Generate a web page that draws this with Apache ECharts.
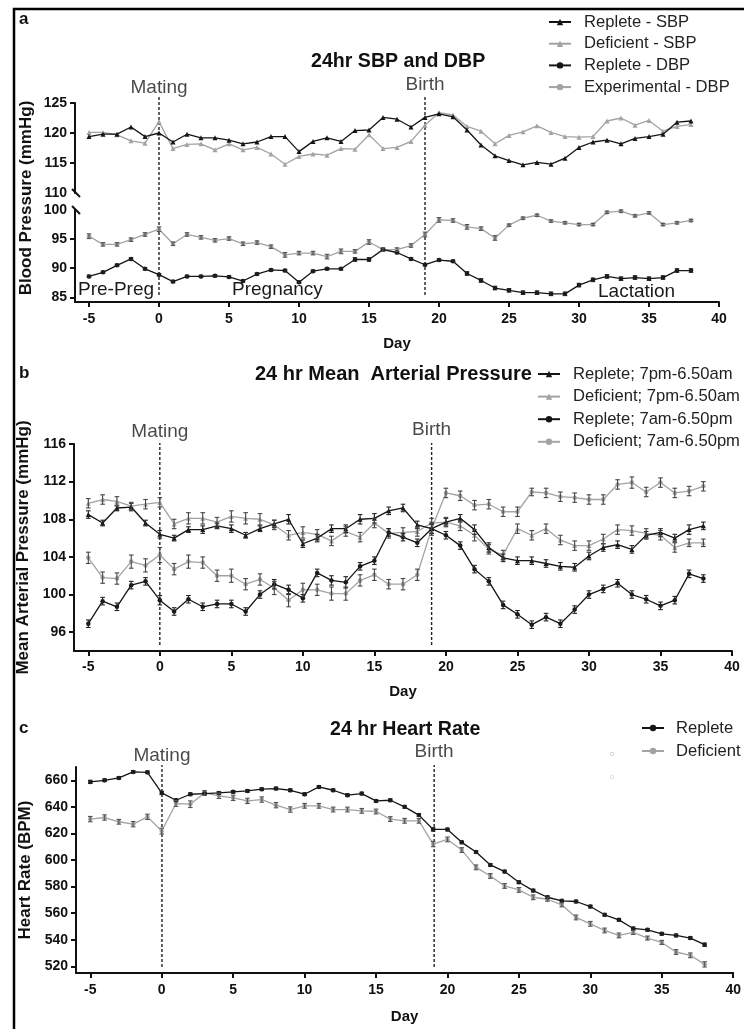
<!DOCTYPE html>
<html>
<head>
<meta charset="utf-8">
<script src="https://cdn.jsdelivr.net/npm/echarts@6/dist/echarts.min.js"></script>
<style>
  html, body { margin: 0; padding: 0; background: #fff; }
  #chart { width: 744px; height: 1029px; }
</style>
</head>
<body>
<div id="chart"></div>
<script>
// Study days (day 0 = mating, day 19 = birth)
const days = [-5,-4,-3,-2,-1,0,1,2,3,4,5,6,7,8,9,10,11,12,13,14,15,16,17,18,19,20,21,22,23,24,25,26,27,28,29,30,31,32,33,34,35,36,37,38];
const dayTicks = [-5,0,5,10,15,20,25,30,35,40];

// Panel a: 24 hr systolic / diastolic blood pressure (mmHg)
const sbpReplete   = [119.4,119.8,119.8,121.0,119.4,120.0,118.5,119.8,119.2,119.2,118.8,118.2,118.5,119.4,119.4,116.9,118.6,119.2,118.6,120.4,120.5,122.6,122.3,121.0,122.6,123.2,122.7,120.5,118.0,116.2,115.4,114.7,115.1,114.8,115.8,117.6,118.5,118.8,118.2,119.1,119.4,119.8,121.8,122.0];
const sbpDeficient = [120.1,120.1,119.7,118.7,118.3,121.9,117.4,118.1,118.2,117.2,118.2,117.2,117.6,116.5,114.8,116.1,116.5,116.3,117.4,117.3,119.7,117.4,117.6,118.6,121.3,123.4,123.0,121.1,120.3,118.2,119.6,120.2,121.2,120.1,119.4,119.3,119.4,122.0,122.5,121.3,122.1,120.3,121.1,121.4];
const dbpReplete   = [88.6,89.3,90.5,91.6,89.9,88.9,87.7,88.6,88.6,88.7,88.5,87.8,89.0,89.7,89.6,87.6,89.5,89.9,89.9,91.5,91.5,93.2,92.7,91.6,90.6,91.4,91.2,89.1,87.9,86.6,86.2,85.8,85.8,85.6,85.6,87.1,88.0,88.6,88.2,88.4,88.2,88.4,89.6,89.6];
const dbpRepleteErr = [0.2,0.2,0.2,0.2,0.2,0.2,0.2,0.2,0.2,0.2,0.2,0.2,0.2,0.2,0.2,0.2,0.2,0.2,0.2,0.3,0.3,0.2,0.2,0.2,0.2,0.2,0.2,0.3,0.3,0.3,0.3,0.3,0.3,0.3,0.3,0.3,0.3,0.3,0.3,0.3,0.3,0.3,0.3,0.3];
const dbpExperimental = [95.5,94.1,94.1,94.9,95.8,96.7,94.2,95.8,95.3,94.8,95.1,94.2,94.4,93.7,92.3,92.6,92.6,92.0,92.9,92.9,94.5,93.2,93.2,93.9,95.8,98.3,98.2,97.1,96.8,95.2,97.4,98.6,99.1,98.1,97.8,97.5,97.5,99.6,99.8,99.0,99.5,97.5,97.8,98.2];
const dbpExperimentalErr = [0.4,0.3,0.3,0.3,0.3,0.4,0.3,0.3,0.3,0.3,0.3,0.3,0.3,0.3,0.4,0.3,0.3,0.4,0.4,0.3,0.4,0.3,0.3,0.3,0.4,0.4,0.3,0.4,0.3,0.4,0.2,0.2,0.2,0.2,0.2,0.2,0.2,0.2,0.2,0.2,0.2,0.2,0.2,0.2];

// Panel b: 24 hr mean arterial pressure (mmHg), night and day periods
const mapNightReplete   = [108.5,107.6,109.2,109.3,107.6,106.4,106.0,106.9,106.9,107.3,107.0,106.3,107.0,107.5,108.0,105.4,106.0,107.0,107.0,108.0,108.1,108.9,109.2,107.4,107.0,107.7,108.1,106.9,105.0,103.9,103.6,103.6,103.3,103.0,102.9,104.1,105.0,105.3,104.8,106.3,106.6,106.0,106.9,107.3];
const mapNightRepleteErr = [0.4,0.3,0.3,0.4,0.3,0.4,0.3,0.3,0.4,0.3,0.4,0.3,0.3,0.4,0.5,0.4,0.4,0.4,0.4,0.5,0.5,0.4,0.4,0.4,0.5,0.4,0.4,0.5,0.5,0.4,0.4,0.4,0.4,0.4,0.4,0.4,0.4,0.4,0.4,0.4,0.4,0.4,0.5,0.4];
const mapNightDeficient = [109.7,110.1,109.9,109.4,109.6,109.8,107.5,108.1,108.1,107.7,108.3,108.1,108.0,107.4,106.3,106.6,106.4,105.7,106.7,106.1,107.6,106.5,106.6,106.7,107.6,107.7,107.3,106.3,104.8,104.2,107.0,106.3,107.0,105.8,105.2,105.2,105.9,106.9,106.8,106.5,106.3,105.0,105.5,105.5];
const mapNightDeficientErr = [0.5,0.5,0.5,0.4,0.5,0.5,0.5,0.6,0.6,0.5,0.6,0.6,0.6,0.5,0.5,0.6,0.5,0.5,0.5,0.5,0.5,0.5,0.5,0.5,0.5,0.5,0.5,0.6,0.5,0.5,0.5,0.5,0.5,0.5,0.5,0.5,0.5,0.5,0.5,0.5,0.5,0.5,0.4,0.4];
const mapDayReplete   = [96.9,99.3,98.7,101.0,101.4,99.4,98.2,99.5,98.7,99.0,99.0,98.2,100.0,101.1,100.5,99.6,102.3,101.5,101.3,103.0,103.6,106.6,106.1,105.5,107.0,106.3,105.2,102.7,101.4,98.9,97.9,96.8,97.6,96.9,98.4,100.0,100.6,101.2,100.0,99.5,98.8,99.4,102.2,101.7];
const mapDayRepleteErr = [0.4,0.4,0.4,0.4,0.4,0.5,0.4,0.4,0.4,0.4,0.4,0.4,0.4,0.5,0.5,0.4,0.4,0.5,0.6,0.4,0.4,0.4,0.4,0.4,0.5,0.4,0.4,0.4,0.4,0.4,0.4,0.4,0.4,0.4,0.4,0.4,0.4,0.4,0.4,0.4,0.4,0.4,0.4,0.4];
const mapDayDeficient = [103.9,101.8,101.7,103.5,103.1,104.2,102.7,103.5,103.4,102.0,102.0,101.1,101.6,100.7,99.4,100.5,100.5,100.1,100.1,101.5,102.1,101.1,101.1,102.1,107.0,110.8,110.5,109.5,109.6,108.8,108.8,110.9,110.8,110.4,110.3,110.1,110.1,111.7,111.9,110.9,111.9,110.8,111.0,111.5];
const mapDayDeficientErr = [0.6,0.6,0.6,0.7,0.7,0.8,0.6,0.7,0.6,0.6,0.7,0.6,0.6,0.7,0.7,0.7,0.6,0.7,0.7,0.6,0.6,0.5,0.6,0.6,0.7,0.5,0.5,0.5,0.5,0.5,0.5,0.4,0.5,0.5,0.5,0.5,0.5,0.5,0.6,0.5,0.5,0.5,0.5,0.5];

// Panel c: 24 hr heart rate (BPM)
const hrReplete   = [658.8,660.0,661.8,666.3,666.0,650.5,645.0,649.5,650.0,650.5,651.3,652.0,653.3,653.8,652.5,649.5,655.0,652.5,648.8,650.0,644.5,645.0,640.0,633.8,623.0,623.0,613.3,606.0,596.3,591.3,583.3,577.0,572.0,569.3,568.8,565.0,558.8,555.0,548.5,547.5,544.5,543.3,541.3,536.3];
const hrRepleteErr = [1.2,1.0,1.0,1.0,1.0,1.2,1.0,1.0,1.0,1.0,1.0,1.0,1.0,1.0,1.0,1.0,1.0,1.0,1.0,1.0,1.0,1.0,1.0,1.0,1.2,1.0,1.0,1.0,1.0,1.0,1.0,1.0,1.0,1.0,1.0,1.0,1.0,1.0,1.0,1.0,1.0,1.0,1.0,1.2];
const hrDeficient = [630.8,632.0,628.8,627.0,632.5,621.8,642.5,642.0,650.5,648.3,646.8,644.5,645.5,641.3,638.0,640.8,640.8,638.0,638.0,637.0,636.5,630.8,629.5,629.5,612.0,615.5,607.5,594.5,588.0,580.5,577.5,572.0,570.5,566.3,556.8,552.0,547.0,543.3,545.5,541.3,538.0,530.8,528.3,521.5];
const hrDeficientErr = [2.0,2.0,1.8,2.0,2.0,2.2,2.2,2.5,1.8,2.0,2.0,2.0,2.0,2.0,2.0,1.8,1.8,1.8,1.8,1.8,1.8,1.8,1.8,1.8,2.0,1.8,1.8,1.8,1.8,1.8,1.8,1.8,1.5,1.5,1.8,1.8,1.8,1.8,1.5,1.5,1.5,1.8,1.8,2.0];

const BLACK = '#151515';
const GREY = '#a3a3a3';
const FONT = '"Liberation Sans", Arial, sans-serif';

const pairs = (ys) => days.map((d, i) => [d, ys[i]]);
const triples = (ys, es) => days.map((d, i) => [d, ys[i], es[i]]);

function lineSeries(name, ys, color, symbol, axisIdx) {
  return {
    name, type: 'line', data: pairs(ys),
    xAxisIndex: axisIdx, yAxisIndex: axisIdx,
    symbol, symbolSize: symbol === 'triangle' ? 5 : 4.5,
    lineStyle: { color, width: 1.3 },
    itemStyle: { color },
    z: color === BLACK ? 4 : 3,
    animation: false
  };
}

function errorSeries(ys, es, color, axisIdx) {
  return {
    type: 'custom', data: triples(ys, es),
    xAxisIndex: axisIdx, yAxisIndex: axisIdx,
    z: 5, silent: true, animation: false,
    renderItem(params, api) {
      const x = api.value(0), y = api.value(1), e = api.value(2);
      const lo = api.coord([x, y - e]);
      const hi = api.coord([x, y + e]);
      const w = 2.3;
      const st = { stroke: color, lineWidth: 1.1 };
      return {
        type: 'group',
        children: [
          { type: 'line', shape: { x1: lo[0], y1: lo[1], x2: hi[0], y2: hi[1] }, style: st },
          { type: 'line', shape: { x1: lo[0] - w, y1: lo[1], x2: lo[0] + w, y2: lo[1] }, style: st },
          { type: 'line', shape: { x1: hi[0] - w, y1: hi[1], x2: hi[0] + w, y2: hi[1] }, style: st }
        ]
      };
    }
  };
}

// Dashed event line plus its caption, drawn on a hidden 0..1 overlay axis
function eventSeries(day, text, axisIdx, offsetY) {
  return [
    {
      type: 'line', data: [[day, 0], [day, 1]],
      xAxisIndex: axisIdx, yAxisIndex: axisIdx,
      symbol: 'none', silent: true, animation: false,
      lineStyle: { color: '#222', width: 1.4, type: [3, 2] }, z: 2
    },
    {
      type: 'scatter', data: [[day, 1]],
      xAxisIndex: axisIdx, yAxisIndex: axisIdx,
      symbolSize: 0, silent: true, animation: false,
      label: {
        show: true, position: 'inside', offset: [0, offsetY],
        formatter: text, color: '#1a1a1a', fontFamily: FONT, fontSize: 19
      }
    }
  ];
}

const axisLineStyle = { onZero: false, lineStyle: { color: '#111', width: 2 } };
const tickStyle = { lineStyle: { color: '#111', width: 2 }, length: 5 };
const labelStyle = { color: '#111', fontFamily: FONT, fontSize: 14, fontWeight: 'bold' };

function dayAxis(gridIndex, visible, nameGap, labelMargin) {
  if (!visible) {
    return { type: 'value', gridIndex, min: -6, max: 40, show: false };
  }
  return {
    type: 'value', gridIndex, min: -6, max: 40,
    axisLine: axisLineStyle,
    axisTick: Object.assign({ customValues: dayTicks }, tickStyle),
    axisLabel: Object.assign({ customValues: dayTicks, margin: labelMargin }, labelStyle),
    splitLine: { show: false },
    name: 'Day', nameLocation: 'middle', nameGap,
    nameTextStyle: { color: '#111', fontFamily: FONT, fontSize: 15, fontWeight: 'bold' }
  };
}

function valueAxis(gridIndex, min, max, tickVals, labelVals, name, nameGap) {
  const ax = {
    type: 'value', gridIndex, min, max,
    axisLine: { show: true, onZero: false, lineStyle: { color: '#111', width: 2 } },
    axisTick: Object.assign({ show: true, customValues: tickVals }, tickStyle),
    axisLabel: Object.assign({ customValues: labelVals, margin: 8 }, labelStyle),
    splitLine: { show: false }
  };
  if (name) {
    ax.name = name;
    ax.nameLocation = 'middle';
    ax.nameGap = nameGap;
    ax.nameTextStyle = { color: '#111', fontFamily: FONT, fontSize: 17, fontWeight: 'bold' };
  }
  return ax;
}

function hiddenAxis(gridIndex) {
  return { type: 'value', gridIndex, min: 0, max: 1, show: false };
}

function legendBlock(names, left, top, gap, textPad) {
  return {
    data: names, orient: 'vertical', left, top, padding: 0,
    itemWidth: 22, itemHeight: 8, itemGap: gap,
    selectedMode: false,
    textStyle: { color: '#222', fontFamily: FONT, fontSize: 16.6, lineHeight: 20, padding: [0, 0, 0, textPad] }
  };
}

const grids = [
  { left: 75, width: 644, top: 103, height: 90 },   // 0: a, systolic segment
  { left: 75, width: 644, top: 210, height: 92 },   // 1: a, diastolic segment
  { left: 75, width: 644, top: 97, height: 198 },   // 2: a, event overlay
  { left: 74, width: 658, top: 444, height: 207 },  // 3: b
  { left: 74, width: 658, top: 443, height: 202 },  // 4: b, event overlay
  { left: 76, width: 659, top: 767, height: 206 },  // 5: c
  { left: 76, width: 659, top: 765, height: 202 }   // 6: c, event overlay
];

const xAxes = [
  dayAxis(0, false),
  dayAxis(1, true, 34, 10),
  dayAxis(2, false),
  dayAxis(3, true, 33, 9),
  dayAxis(4, false),
  dayAxis(5, true, 36, 10),
  dayAxis(6, false)
];

const yAxes = [
  valueAxis(0, 110, 125, [115, 120, 125], [110, 115, 120, 125]),
  valueAxis(1, 84.2, 100, [85, 90, 95], [85, 90, 95, 100]),
  hiddenAxis(2),
  valueAxis(3, 94, 116, [96, 100, 104, 108, 112, 116], [96, 100, 104, 108, 112, 116], 'Mean Arterial Pressure (mmHg)', 38),
  hiddenAxis(4),
  valueAxis(5, 515, 670, [520, 540, 560, 580, 600, 620, 640, 660], [520, 540, 560, 580, 600, 620, 640, 660], 'Heart Rate (BPM)', 40),
  hiddenAxis(6)
];

const series = [
  // a
  lineSeries('Replete - SBP', sbpReplete, BLACK, 'triangle', 0),
  lineSeries('Deficient - SBP', sbpDeficient, GREY, 'triangle', 0),
  lineSeries('Replete - DBP', dbpReplete, BLACK, 'circle', 1),
  lineSeries('Experimental - DBP', dbpExperimental, GREY, 'circle', 1),
  errorSeries(dbpReplete, dbpRepleteErr, '#222', 1),
  errorSeries(dbpExperimental, dbpExperimentalErr, '#555', 1),
  ...eventSeries(0, 'Mating', 2, -9),
  ...eventSeries(19, 'Birth', 2, -12),
  // b
  lineSeries('Replete; 7pm-6.50am', mapNightReplete, BLACK, 'triangle', 3),
  lineSeries('Deficient; 7pm-6.50am', mapNightDeficient, GREY, 'triangle', 3),
  lineSeries('Replete; 7am-6.50pm', mapDayReplete, BLACK, 'circle', 3),
  lineSeries('Deficient; 7am-6.50pm', mapDayDeficient, GREY, 'circle', 3),
  errorSeries(mapNightReplete, mapNightRepleteErr, '#222', 3),
  errorSeries(mapNightDeficient, mapNightDeficientErr, '#444', 3),
  errorSeries(mapDayReplete, mapDayRepleteErr, '#222', 3),
  errorSeries(mapDayDeficient, mapDayDeficientErr, '#444', 3),
  ...eventSeries(0, 'Mating', 4, -11),
  ...eventSeries(19, 'Birth', 4, -13),
  // c
  lineSeries('Replete', hrReplete, BLACK, 'circle', 5),
  lineSeries('Deficient', hrDeficient, GREY, 'circle', 5),
  errorSeries(hrReplete, hrRepleteErr, '#222', 5),
  errorSeries(hrDeficient, hrDeficientErr, '#555', 5),
  ...eventSeries(0, 'Mating', 6, -9),
  ...eventSeries(19, 'Birth', 6, -13)
];

const legends = [
  legendBlock(['Replete - SBP', 'Deficient - SBP', 'Replete - DBP', 'Experimental - DBP'], 548, 12, 1.7, 8),
  legendBlock(['Replete; 7pm-6.50am', 'Deficient; 7pm-6.50am', 'Replete; 7am-6.50pm', 'Deficient; 7am-6.50pm'], 537, 364, 2.6, 8),
  legendBlock(['Replete', 'Deficient'], 641, 718, 3, 7)
];

const bold = (size) => ({ fill: '#111', font: `bold ${size}px ${FONT}` });
const plain = (size) => ({ fill: '#1a1a1a', font: `${size}px ${FONT}` });

const graphic = [
  // figure frame
  { type: 'polyline', shape: { points: [[14, 1029], [14, 9], [744, 9]] }, style: { stroke: '#000', lineWidth: 2.5, fill: null } },
  // panel letters
  { type: 'text', left: 19, top: 11, style: Object.assign({ text: 'a' }, bold(17)) },
  { type: 'text', left: 19, top: 365, style: Object.assign({ text: 'b' }, bold(17)) },
  { type: 'text', left: 19, top: 720, style: Object.assign({ text: 'c' }, bold(17)) },
  // panel titles
  { type: 'text', left: 311, top: 52, style: Object.assign({ text: '24hr SBP and DBP' }, bold(19.6)) },
  { type: 'text', left: 255, top: 364, style: Object.assign({ text: '24 hr Mean  Arterial Pressure' }, bold(20)) },
  { type: 'text', left: 330, top: 720, style: Object.assign({ text: '24 hr Heart Rate' }, bold(19.6)) },
  // reproductive phases
  { type: 'text', left: 78, top: 280, style: Object.assign({ text: 'Pre-Preg' }, plain(19)) },
  { type: 'text', left: 232, top: 280, style: Object.assign({ text: 'Pregnancy' }, plain(19)) },
  { type: 'text', left: 598, top: 282, style: Object.assign({ text: 'Lactation' }, plain(19)) },
  // shared y-axis title for the broken pressure axis
  { type: 'text', x: 26, y: 198, rotation: Math.PI / 2,
    style: Object.assign({ text: 'Blood Pressure (mmHg)', textAlign: 'center', textVerticalAlign: 'middle' }, bold(17)) },
  // axis break marks
  { type: 'rect', shape: { x: 72, y: 194, width: 6, height: 15 }, style: { fill: '#fff' } },
  { type: 'line', shape: { x1: 72, y1: 189, x2: 80, y2: 197 }, style: { stroke: '#111', lineWidth: 2 } },
  { type: 'line', shape: { x1: 72, y1: 206, x2: 80, y2: 214 }, style: { stroke: '#111', lineWidth: 2 } },
  // faint stray markers near the heart-rate legend
  { type: 'circle', shape: { cx: 612, cy: 754, r: 1.6 }, style: { stroke: '#c8c8c8', lineWidth: 0.8, fill: null } },
  { type: 'circle', shape: { cx: 612, cy: 777, r: 1.6 }, style: { stroke: '#d4d4d4', lineWidth: 0.8, fill: null } }
];

const chart = echarts.init(document.getElementById('chart'), null, { renderer: 'canvas' });
chart.setOption({
  backgroundColor: '#fff',
  animation: false,
  grid: grids,
  xAxis: xAxes,
  yAxis: yAxes,
  legend: legends,
  series,
  graphic
});
</script>
</body>
</html>
